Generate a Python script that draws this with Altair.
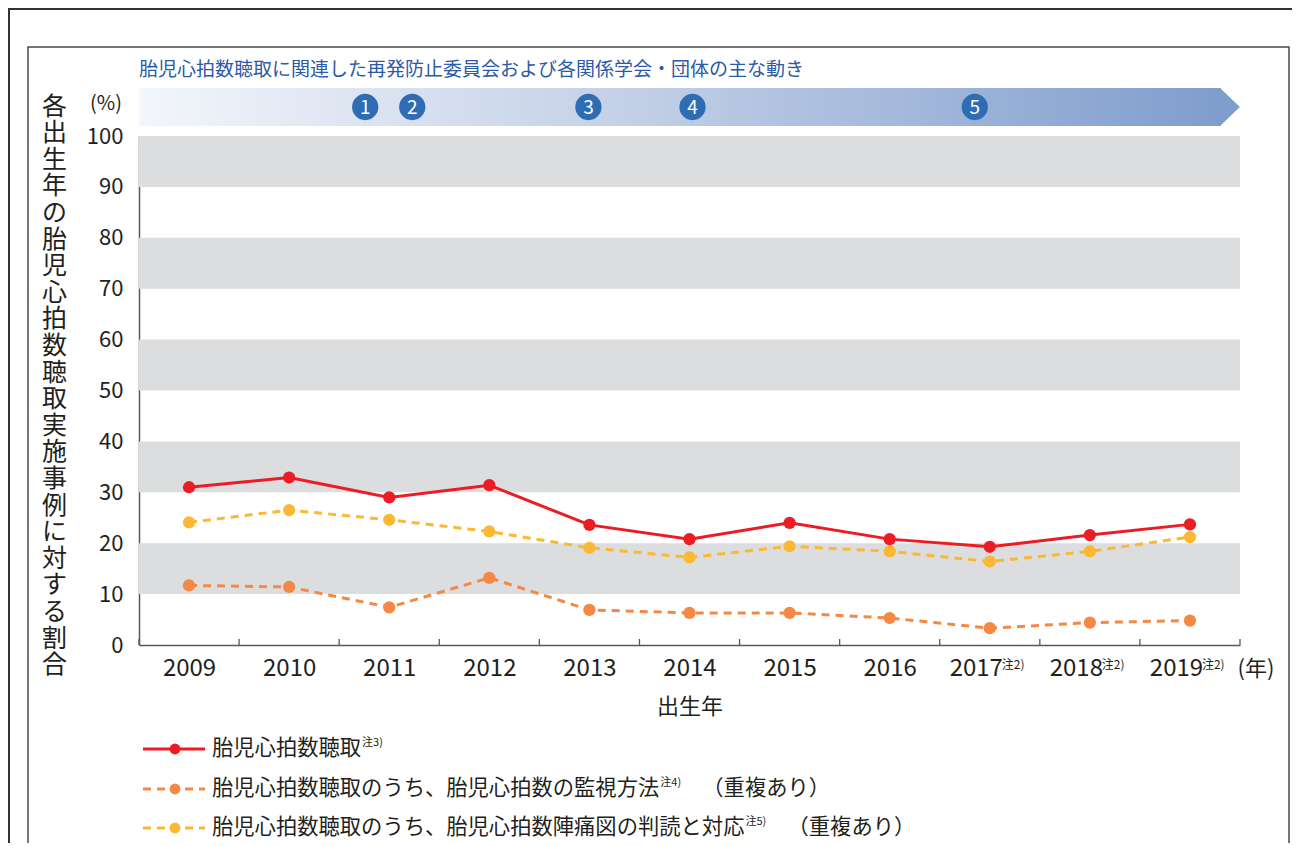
import altair as alt
import pandas as pd

# ---------------- data ----------------
years = [2009, 2010, 2011, 2012, 2013, 2014, 2015, 2016, 2017, 2018, 2019]
fhr_auscultation = [31.0, 32.9, 29.0, 31.4, 23.6, 20.8, 24.0, 20.8, 19.3, 21.6, 23.7]
fhr_monitoring_method = [11.7, 11.4, 7.4, 13.2, 6.9, 6.3, 6.3, 5.3, 3.3, 4.4, 4.8]
fhr_ctg_reading = [24.1, 26.5, 24.6, 22.3, 19.1, 17.2, 19.4, 18.4, 16.4, 18.4, 21.2]

noted_years = [2017, 2018, 2019]
event_positions = [2010.76, 2011.23, 2012.99, 2014.03, 2016.85]
event_labels = ["1", "2", "3", "4", "5"]
band_low = [10, 30, 50, 70, 90]
band_high = [20, 40, 60, 80, 100]
y_ticks = [0, 10, 20, 30, 40, 50, 60, 70, 80, 90, 100]
tick_bounds = [2008.5, 2009.5, 2010.5, 2011.5, 2012.5, 2013.5, 2014.5,
               2015.5, 2016.5, 2017.5, 2018.5, 2019.5]

legend_labels = ["胎児心拍数聴取",
                 "胎児心拍数聴取のうち、胎児心拍数の監視方法",
                 "胎児心拍数聴取のうち、胎児心拍数陣痛図の判読と対応"]
legend_notes = ["注3)", "注4)", "注5)"]
legend_suffix = ["", "（重複あり）", "（重複あり）"]

header = "胎児心拍数聴取に関連した再発防止委員会および各関係学会・団体の主な動き"
y_title = "各出生年の胎児心拍数聴取実施事例に対する割合"

# ---------------- style ----------------
FONT = "Noto Sans CJK JP"
TXT = "#231f20"
RED = "#ec1c24"
ORANGE = "#f58845"
YELLOW = "#fbb933"
W, H = 1101, 509

xscale = alt.Scale(domain=[2008.5, 2019.5], nice=False, zero=False)
yscale = alt.Scale(domain=[0, 100], nice=False, zero=True)

xaxis = alt.Axis(
    values=years, format="d", title="出生年", titleFont=FONT, titleFontSize=22,
    titleFontWeight="normal", titleColor=TXT, titlePadding=16,
    labelFont=FONT, labelFontSize=24, labelColor=TXT, labelPadding=11,
    labelOffset={"condition": {"test": "datum.value >= 2017", "value": -14}, "value": 0},
    ticks=False, grid=False, domainColor="#595757", domainWidth=1.5,
)
yaxis = alt.Axis(
    values=y_ticks, title=list(y_title), titleAngle=0, titleX=-85, titleY=-42,
    titleBaseline="top", titleAlign="center", titleLineHeight=26.6,
    titleFont=FONT, titleFontSize=25, titleFontWeight="normal", titleColor=TXT,
    labelFont=FONT, labelFontSize=22, labelColor=TXT, labelPadding=16,
    ticks=False, grid=False, domainColor="#595757", domainWidth=1.5,
)

one = pd.DataFrame({"a": [0]})

# frames
outer = alt.Chart(one).mark_rect(fill="white", fillOpacity=0, stroke="#333333", strokeWidth=2).encode(
    x=alt.value(-130), x2=alt.value(1200), y=alt.value(-127), y2=alt.value(760))
inner = alt.Chart(one).mark_rect(fill="white", fillOpacity=0, stroke="#4a4a4a", strokeWidth=1.5).encode(
    x=alt.value(-111), x2=alt.value(1150), y=alt.value(-89), y2=alt.value(760))

# gray bands
bands = alt.Chart(pd.DataFrame({"v": band_low, "v2": band_high})).mark_rect(color="#dcdddf").encode(
    x=alt.value(0), x2=alt.value(W),
    y=alt.Y("v:Q", scale=yscale, axis=yaxis), y2="v2:Q")

# tick marks (pointing up) at year boundaries
ticks = alt.Chart(pd.DataFrame({"year": tick_bounds})).mark_rule(color="#595757", strokeWidth=1.3).encode(
    x=alt.X("year:Q", scale=xscale, axis=xaxis), y=alt.value(H), y2=alt.value(H - 6))

# header text
head = alt.Chart(one).mark_text(text=header, font=FONT, fontSize=19, color="#2b5aa6",
                                align="left", baseline="middle").encode(
    x=alt.value(0), y=alt.value(-66))

# timeline arrow
grad = alt.LinearGradient(gradient="linear", x1=0, x2=1, y1=0, y2=0, stops=[
    alt.GradientStop(color="#f3f6fb", offset=0),
    alt.GradientStop(color="#c3d0e7", offset=0.45),
    alt.GradientStop(color="#7f9dcd", offset=1)])
arrow_body = alt.Chart(one).mark_rect(fill=grad).encode(
    x=alt.value(0), x2=alt.value(1082), y=alt.value(-48), y2=alt.value(-10))
arrow_tip = alt.Chart(one).mark_point(shape="M-0.5,-1L0.55,0L-0.5,1Z", filled=True, fill="#7f9dcd",
                                      opacity=1, size=1444, strokeWidth=0).encode(
    x=alt.value(1090.5), y=alt.value(-29))

events_df = pd.DataFrame({"year": event_positions, "lab": event_labels})
ev_circ = alt.Chart(events_df).mark_point(shape="circle", filled=True, color="#2e6db4",
                                          opacity=1, size=690).encode(
    x=alt.X("year:Q", scale=xscale, axis=xaxis), y=alt.value(-29))
ev_txt = alt.Chart(events_df).mark_text(font=FONT, fontSize=19, color="white", baseline="middle",
                                        dy=1).encode(
    x=alt.X("year:Q", scale=xscale, axis=xaxis), y=alt.value(-29), text="lab:N")

# unit labels
pct = alt.Chart(one).mark_text(text="(%)", font=FONT, fontSize=20, color=TXT, baseline="middle").encode(
    x=alt.value(-33), y=alt.value(-32))
nen = alt.Chart(one).mark_text(text="(年)", font=FONT, fontSize=22, color=TXT, baseline="middle").encode(
    x=alt.value(1117), y=alt.value(533))
notes = alt.Chart(pd.DataFrame({"year": noted_years})).mark_text(
    text="注2)", font=FONT, fontSize=12, color=TXT, align="left", baseline="middle", dx=12).encode(
    x=alt.X("year:Q", scale=xscale, axis=xaxis), y=alt.value(529))


def series(vals, color, dash=None):
    df = pd.DataFrame({"year": years, "v": vals})
    base = alt.Chart(df).encode(x=alt.X("year:Q", scale=xscale, axis=xaxis),
                                y=alt.Y("v:Q", scale=yscale, axis=yaxis))
    if dash:
        line = base.mark_line(color=color, strokeWidth=3, strokeDash=dash)
    else:
        line = base.mark_line(color=color, strokeWidth=3)
    pts = base.mark_point(filled=True, color=color, opacity=1, size=150, strokeWidth=0)
    return [line, pts]


# legend (manual)
leg_layers = []
rows_y = [613, 653, 692]
colors = [RED, ORANGE, YELLOW]
dashes = [None, [8, 6], [8, 6]]
FS = 21.3
for i in range(3):
    ry = rows_y[i]
    if dashes[i]:
        r = alt.Chart(one).mark_rule(color=colors[i], strokeWidth=3, strokeDash=dashes[i]).encode(
            x=alt.value(4), x2=alt.value(66), y=alt.value(ry))
    else:
        r = alt.Chart(one).mark_rule(color=colors[i], strokeWidth=3).encode(
            x=alt.value(4), x2=alt.value(66), y=alt.value(ry))
    p = alt.Chart(one).mark_point(filled=True, color=colors[i], opacity=1, size=120, strokeWidth=0).encode(
        x=alt.value(36), y=alt.value(ry))
    t = alt.Chart(one).mark_text(text=legend_labels[i], font=FONT, fontSize=FS, color=TXT,
                                 align="left", baseline="middle").encode(
        x=alt.value(73), y=alt.value(ry))
    xs = 73 + len(legend_labels[i]) * FS + 1
    n = alt.Chart(one).mark_text(text=legend_notes[i], font=FONT, fontSize=11, color=TXT,
                                 align="left", baseline="middle").encode(
        x=alt.value(xs), y=alt.value(ry - 6))
    leg_layers += [r, p, t, n]
    if legend_suffix[i]:
        s = alt.Chart(one).mark_text(text=legend_suffix[i], font=FONT, fontSize=FS, color=TXT,
                                     align="left", baseline="middle").encode(
            x=alt.value(xs + 42), y=alt.value(ry))
        leg_layers.append(s)

layers = [outer, inner, bands, ticks, head, arrow_body, arrow_tip, ev_circ, ev_txt, pct, nen, notes]
layers += series(fhr_monitoring_method, ORANGE, [8, 6])
layers += series(fhr_ctg_reading, YELLOW, [8, 6])
layers += series(fhr_auscultation, RED)
layers += leg_layers

chart = alt.layer(*layers).properties(
    width=W, height=H,
    autosize=alt.AutoSizeParams(type="none"),
    padding={"left": 131, "top": 128, "right": 52, "bottom": 198},
).configure_view(stroke=None)

chart.save("out.html", embed_options={"renderer": "svg", "actions": False})
